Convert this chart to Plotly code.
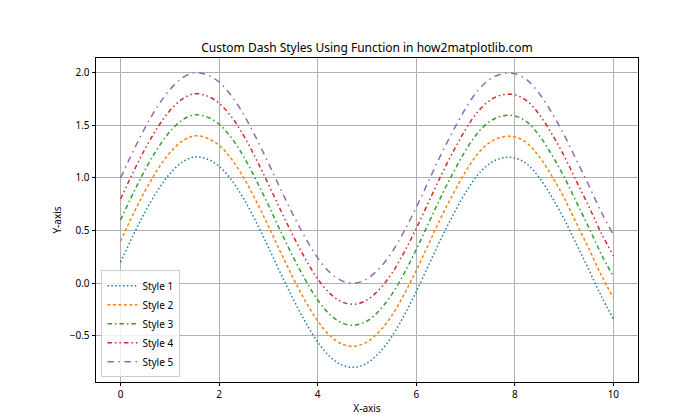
import plotly.graph_objects as go

x_vals = [0.0, 0.25, 0.5, 0.75, 1.0, 1.25, 1.5, 1.75, 2.0, 2.25, 2.5, 2.75, 3.0, 3.25,
          3.5, 3.75, 4.0, 4.25, 4.5, 4.75, 5.0, 5.25, 5.5, 5.75, 6.0, 6.25, 6.5, 6.75,
          7.0, 7.25, 7.5, 7.75, 8.0, 8.25, 8.5, 8.75, 9.0, 9.25, 9.5, 9.75, 10.0]

style1 = [0.20, 0.45, 0.68, 0.88, 1.04, 1.15, 1.20, 1.18, 1.11, 0.98, 0.80, 0.58, 0.34, 0.09,
          -0.15, -0.37, -0.56, -0.70, -0.78, -0.80, -0.76, -0.66, -0.51, -0.31, -0.08, 0.17,
          0.42, 0.65, 0.86, 1.03, 1.14, 1.19, 1.19, 1.13, 1.00, 0.82, 0.61, 0.37, 0.13, -0.12, -0.34]
style2 = [0.40, 0.65, 0.88, 1.08, 1.24, 1.35, 1.40, 1.38, 1.31, 1.18, 1.00, 0.78, 0.54, 0.29,
          0.05, -0.17, -0.36, -0.50, -0.58, -0.60, -0.56, -0.46, -0.31, -0.11, 0.12, 0.37,
          0.62, 0.85, 1.06, 1.23, 1.34, 1.39, 1.39, 1.33, 1.20, 1.02, 0.81, 0.57, 0.33, 0.08, -0.14]
style3 = [0.60, 0.85, 1.08, 1.28, 1.44, 1.55, 1.60, 1.58, 1.51, 1.38, 1.20, 0.98, 0.74, 0.49,
          0.25, 0.03, -0.16, -0.30, -0.38, -0.40, -0.36, -0.26, -0.11, 0.09, 0.32, 0.57,
          0.82, 1.05, 1.26, 1.43, 1.54, 1.59, 1.59, 1.53, 1.40, 1.22, 1.01, 0.77, 0.53, 0.28, 0.06]
style4 = [0.80, 1.05, 1.28, 1.48, 1.64, 1.75, 1.80, 1.78, 1.71, 1.58, 1.40, 1.18, 0.94, 0.69,
          0.45, 0.23, 0.04, -0.10, -0.18, -0.20, -0.16, -0.06, 0.09, 0.29, 0.52, 0.77,
          1.02, 1.25, 1.46, 1.63, 1.74, 1.79, 1.79, 1.73, 1.60, 1.42, 1.21, 0.97, 0.73, 0.48, 0.26]
style5 = [1.00, 1.25, 1.48, 1.68, 1.84, 1.95, 2.00, 1.98, 1.91, 1.78, 1.60, 1.38, 1.14, 0.89,
          0.65, 0.43, 0.24, 0.10, 0.02, 0.00, 0.04, 0.14, 0.29, 0.49, 0.72, 0.97,
          1.22, 1.45, 1.66, 1.83, 1.94, 1.99, 1.99, 1.93, 1.80, 1.62, 1.41, 1.17, 0.93, 0.68, 0.46]

series_names = ["Style 1", "Style 2", "Style 3", "Style 4", "Style 5"]
series_values = [style1, style2, style3, style4, style5]
colors = ["#1f77b4", "#ff7f0e", "#2ca02c", "#d62728", "#9467bd"]
dashes = ["1.5px,2.4px", "3px,2.5px", "4.5px,3px,1.5px,3px",
          "4.5px,3px,1.5px,3px,1.5px,3px", "6.5px,4.5px,1.5px,4.5px"]

x_ticks = [0, 2, 4, 6, 8, 10]
y_ticks = [-0.5, 0.0, 0.5, 1.0, 1.5, 2.0]

FONT = "Noto Sans"

fig = go.Figure()
for name, vals, col, dash in zip(series_names, series_values, colors, dashes):
    fig.add_trace(go.Scatter(x=x_vals, y=vals, mode="lines", name=name,
                             line=dict(color=col, width=1.5, dash=dash, shape="spline")))

axis_common = dict(showline=True, linecolor="black", linewidth=0.8, mirror=True,
                   ticks="outside", ticklen=3.5, tickwidth=0.8, tickcolor="black",
                   showgrid=True, gridcolor="#b0b0b0", gridwidth=0.8, zeroline=False,
                   automargin=False,
                   tickfont=dict(family=FONT, size=10, color="black"))

fig.update_layout(
    width=700, height=420,
    margin=dict(l=88, r=70, t=50, b=46),
    plot_bgcolor="white", paper_bgcolor="white",
    font=dict(family=FONT, size=10, color="black"),
    title=dict(text="Custom Dash Styles Using Function in how2matplotlib.com",
               x=0.5, xref="paper", y=(420 - 40) / 420, yref="container",
               xanchor="center", yanchor="middle",
               font=dict(family=FONT, size=12, color="black")),
    xaxis=dict(range=[-0.5, 10.5], tickvals=x_ticks,
               title=dict(text="X-axis", standoff=4, font=dict(family=FONT, size=10)),
               **axis_common),
    yaxis=dict(range=[-0.94, 2.14], tickvals=y_ticks, tickformat=".1f",
               title=dict(text="Y-axis", standoff=6, font=dict(family=FONT, size=10)),
               **axis_common),
    legend=dict(x=0.01, y=0.015, xanchor="left", yanchor="bottom",
                bgcolor="rgba(255,255,255,0.8)", bordercolor="#cccccc", borderwidth=1,
                font=dict(family=FONT, size=10), tracegroupgap=0, itemwidth=30),
    showlegend=True,
)

fig.write_html("out.html")
